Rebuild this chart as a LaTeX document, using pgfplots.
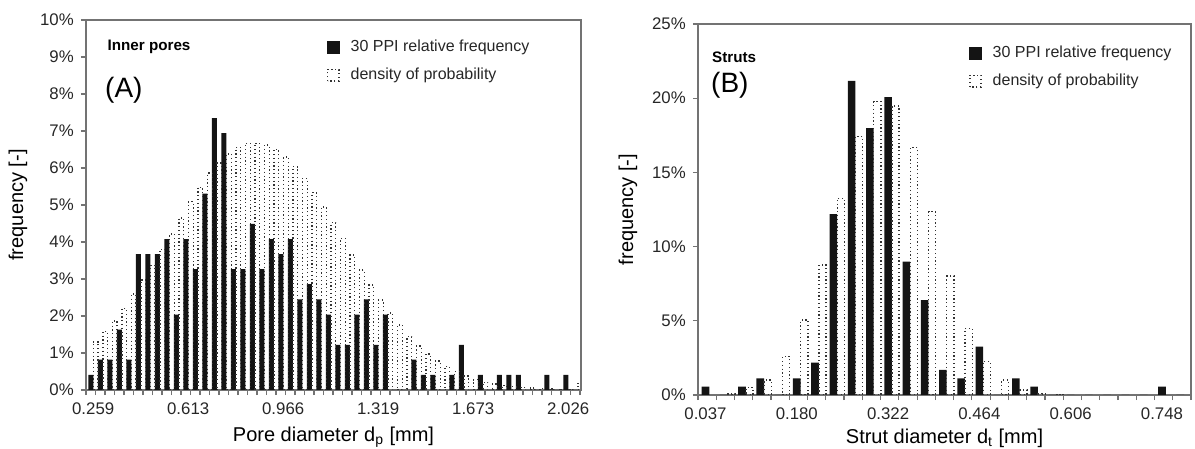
\documentclass[border=0pt]{standalone}
\usepackage{fontspec}
\setmainfont{Liberation Sans}
\usepackage{pgfplots}
\usepackage{pgfplotstable}
\pgfplotsset{compat=1.18}

\pgfplotstableread{
k black dens
0 0.41 1.31
1 0.82 1.58
2 0.82 1.87
3 1.63 2.20
4 0.82 2.59
5 3.67 2.97
6 3.67 3.37
7 3.67 3.80
8 4.08 4.22
9 2.04 4.65
10 4.08 5.09
11 3.27 5.48
12 5.31 5.86
13 7.35 6.13
14 6.94 6.38
15 3.27 6.56
16 3.27 6.67
17 4.49 6.67
18 3.27 6.62
19 4.08 6.50
20 3.67 6.30
21 4.08 6.04
22 2.45 5.72
23 2.86 5.33
24 2.45 4.95
25 2.04 4.52
26 1.22 4.10
27 1.22 3.65
28 2.04 3.24
29 2.45 2.84
30 1.22 2.43
31 2.04 2.08
32 0 1.76
33 0 1.44
34 0.82 1.19
35 0.41 0.97
36 0.41 0.78
37 0 0.63
38 0.41 0.50
39 1.22 0.38
40 0 0.28
41 0.41 0.21
42 0 0.16
43 0.41 0.12
44 0.41 0.09
45 0.41 0.07
46 0 0.05
47 0 0.04
48 0.41 0.03
49 0 0.02
50 0.41 0.02
51 0 0.18
}\tableA

\pgfplotstableread{
k black dens
0 0.56 0
1 0 0.10
2 0.56 0.50
3 1.12 1.00
4 0 2.58
5 1.12 5.06
6 2.18 8.76
7 12.18 13.26
8 21.17 17.42
9 17.98 19.78
10 20.07 19.48
11 8.99 16.67
12 6.40 12.36
13 1.69 8.02
14 1.12 4.49
15 3.26 2.25
16 0 1.00
17 1.12 0.34
18 0.56 0.10
19 0 0.03
20 0 0
21 0 0
22 0 0
23 0 0
24 0 0
25 0.56 0
26 0 0
}\tableB

\pgfplotsset{
  histo/.style={
    scale only axis,
    axis line style={black!55, line width=0.6pt},
    tick style={black!55, line width=0.6pt},
    tick align=outside,
    xtick pos=bottom, ytick pos=left,
    major tick length=2.6pt, minor tick length=2.6pt,
    major x tick style={draw=none},
    tick label style={font=\fontsize{8.4}{10}\selectfont, text=black!85},
    xticklabel style={yshift=-0.5pt},
    label style={font=\fontsize{9.4}{11}\selectfont, text=black!85},
    every axis x label/.style={at={(rel axis cs:0.5,0)}, anchor=center},
    ymin=0,
    legend style={draw=none, fill=none, font=\fontsize{8}{9.6}\selectfont, text=black!85,
      row sep=2.5pt, column sep=3.5pt, legend cell align=left, anchor=north west},
  },
  blackbar/.style={ybar, fill=black!92, draw=none,
    legend image code/.code={\fill[black!92] (0pt,-3.2pt) rectangle (6.2pt,3.2pt);}},
  dotbar/.style={ybar, fill=none, draw=black!80, dash pattern=on 0.6pt off 1.3pt, line width=0.7pt,
    y filter/.expression={y<0.001 ? nan : y},
    legend image code/.code={\draw[black!80, dash pattern=on 0.6pt off 1.3pt, line width=0.7pt] (0.3pt,-2.9pt) rectangle (5.9pt,2.9pt);}},
}

\begin{document}
\begin{tikzpicture}[x=1pt,y=1pt]
\useasboundingbox (0,0) rectangle (597.5,224.5);

\begin{axis}[histo,
  at={(43pt,29.5pt)}, anchor=south west,
  width=247.5pt, height=185pt,
  xmin=-0.505, xmax=51.6, ymax=10,
  xtick={0.25,10.25,20.25,30.25,40.25,50.25},
  xticklabels={0.259,0.613,0.966,1.319,1.673,2.026},
  minor xtick={-0.5,0.5,...,51.6},
  ytick={0,1,...,10},
  yticklabels={0\%,1\%,2\%,3\%,4\%,5\%,6\%,7\%,8\%,9\%,10\%},
  xlabel={Pore diameter d\textsubscript{p} [mm]},
  ylabel={frequency [-]},
  every axis x label/.append style={yshift=-23.5pt},
  every axis y label/.style={at={(rel axis cs:0,0.5)}, anchor=center, rotate=90, yshift=34pt},
  legend style={at={(0.474,0.968)}},
]
\addplot[blackbar, bar width=2.5pt, bar shift=0pt] table[x=k,y=black]{\tableA};
\addlegendentry{30 PPI relative frequency}
\addplot[dotbar, bar width=2.4pt, bar shift=2.5pt] table[x=k,y=dens]{\tableA};
\addlegendentry{density of probability}
\node[anchor=west, inner sep=0pt, font=\bfseries\fontsize{7.6}{9}\selectfont] at (rel axis cs:0.043,0.927) {Inner pores};
\node[anchor=west, inner sep=0pt, font=\fontsize{14}{16}\selectfont] at (rel axis cs:0.038,0.811) {(A)};
\end{axis}

\begin{axis}[histo,
  at={(349pt,27pt)}, anchor=south west,
  width=246.5pt, height=185.5pt,
  xmin=-0.41, xmax=26.59, ymax=25,
  xtick={0,5,10,15,20,25},
  xticklabels={0.037,0.180,0.322,0.464,0.606,0.748},
  minor xtick={-0.41,0.59,...,26.6},
  ytick={0,5,...,25},
  yticklabels={0\%,5\%,10\%,15\%,20\%,25\%},
  xlabel={Strut diameter d\textsubscript{t} [mm]},
  ylabel={frequency [-]},
  every axis x label/.append style={yshift=-21.5pt},
  every axis y label/.style={at={(rel axis cs:0,0.5)}, anchor=center, rotate=90, yshift=35pt},
  legend style={at={(0.537,0.963)}},
]
\addplot[blackbar, bar width=3.8pt, bar shift=0pt] table[x=k,y=black]{\tableB};
\addlegendentry{30 PPI relative frequency}
\addplot[dotbar, bar width=3.6pt, bar shift=3.75pt] table[x=k,y=dens]{\tableB};
\addlegendentry{density of probability}
\node[anchor=west, inner sep=0pt, font=\bfseries\fontsize{7.6}{9}\selectfont] at (rel axis cs:0.028,0.911) {Struts};
\node[anchor=west, inner sep=0pt, font=\fontsize{14}{16}\selectfont] at (rel axis cs:0.026,0.836) {(B)};
\end{axis}
\end{tikzpicture}
\end{document}
